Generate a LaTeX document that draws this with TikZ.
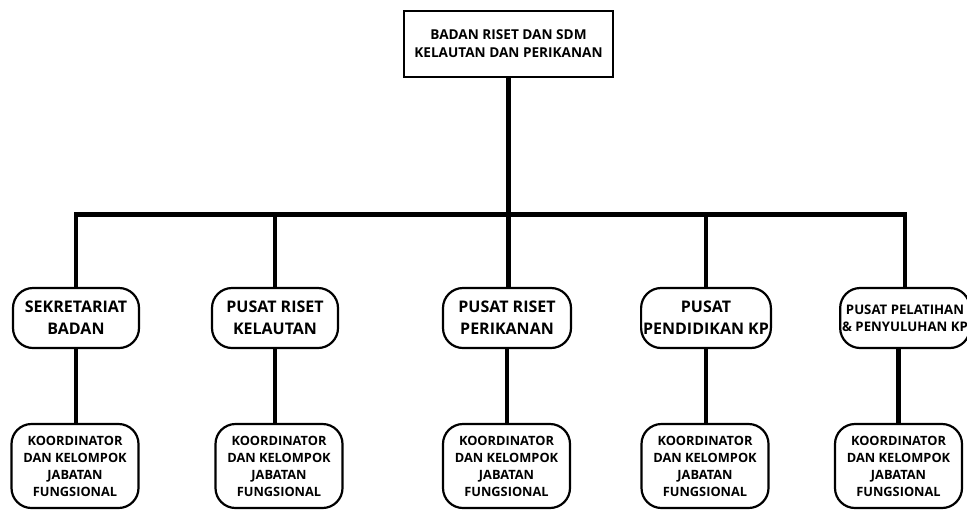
\documentclass[tikz,border=0pt]{standalone}
\usepackage{fontspec}
\setmainfont{Open Sans}
\usetikzlibrary{positioning}

\begin{document}
\begin{tikzpicture}[x=0.5pt, y=-0.5pt,
    head/.style={draw, line width=1.1pt, minimum width=104.5pt, minimum height=33pt, align=center, font=\fontsize{6.8}{9}\selectfont\bfseries},
    unit/.style={draw, line width=1.1pt, rounded corners=10pt, minimum width=63pt, minimum height=30pt, inner sep=1pt, align=center, font=\fontsize{8}{11}\selectfont\bfseries},
    group/.style={draw, line width=1.1pt, rounded corners=10pt, minimum width=63.5pt, minimum height=42pt, inner sep=1pt, align=center, font=\fontsize{6.4}{8.5}\selectfont\bfseries},
    link/.style={line width=2.4pt}]
    \useasboundingbox (0,0) rectangle (967,510);

    % Top of the structure
    \node[head] (badan) at (508.5,44) {BADAN RISET DAN SDM\\KELAUTAN DAN PERIKANAN};

    % Second level units
    \node[unit] (sekretariat) at (76,318) {SEKRETARIAT\\BADAN};
    \node[unit] (kelautan) at (275,318) {PUSAT RISET\\KELAUTAN};
    \node[unit, minimum width=64pt] (perikanan) at (507,318) {PUSAT RISET\\PERIKANAN};
    \node[unit, minimum width=64pt] (pendidikan) at (706,318) {PUSAT\\PENDIDIKAN KP};
    \node[unit, minimum width=62pt, font=\fontsize{6.6}{8.5}\selectfont\bfseries] (pelatihan) at (905,318) {PUSAT PELATIHAN\\\& PENYULUHAN KP};

    % Functional groups below each unit
    \node[group] (fungsional1) at (75,466) {KOORDINATOR\\DAN KELOMPOK\\JABATAN\\FUNGSIONAL};
    \node[group] (fungsional2) at (279,466) {KOORDINATOR\\DAN KELOMPOK\\JABATAN\\FUNGSIONAL};
    \node[group] (fungsional3) at (506.5,466) {KOORDINATOR\\DAN KELOMPOK\\JABATAN\\FUNGSIONAL};
    \node[group] (fungsional4) at (705,466) {KOORDINATOR\\DAN KELOMPOK\\JABATAN\\FUNGSIONAL};
    \node[group] (fungsional5) at (898.5,466) {KOORDINATOR\\DAN KELOMPOK\\JABATAN\\FUNGSIONAL};

    % Branch bar
    \coordinate (bar) at (508.5,214.5);
    \draw[link] (badan) -- (bar);
    \draw[link] (sekretariat.north) |- (bar) -| (pelatihan.north);
    \draw[link] (kelautan.north) -- (kelautan.north |- bar);
    \draw[link] (bar) -- (bar |- perikanan.north);
    \draw[link] (pendidikan.north) -- (pendidikan.north |- bar);

    % Links to functional groups
    \draw[link] (sekretariat) -- (sekretariat |- fungsional1.north);
    \draw[link] (kelautan) -- (kelautan |- fungsional2.north);
    \draw[link] (perikanan) -- (perikanan |- fungsional3.north);
    \draw[link] (pendidikan) -- (pendidikan |- fungsional4.north);
    \draw[link] (fungsional5) -- (fungsional5 |- pelatihan.south);
\end{tikzpicture}
\end{document}
